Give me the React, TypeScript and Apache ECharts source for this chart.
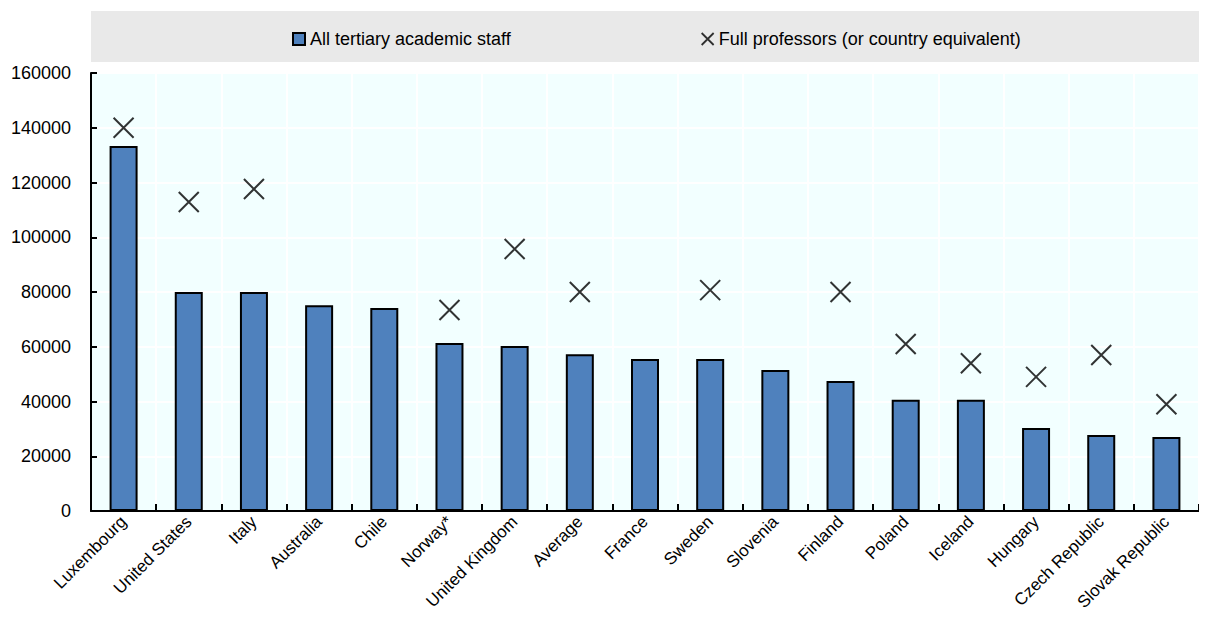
import React, { useEffect, useRef } from "react";
import * as echarts from "echarts";

const categories = ["Luxembourg", "United States", "Italy", "Australia", "Chile", "Norway*", "United Kingdom", "Average", "France", "Sweden", "Slovenia", "Finland", "Poland", "Iceland", "Hungary", "Czech Republic", "Slovak Republic"];
const staffValues = [133300, 80000, 80000, 75200, 74200, 61400, 60300, 57300, 55500, 55500, 51500, 47500, 40600, 40600, 30300, 27800, 27000];
const professorValues = [140000, 112900, 117600, null, null, 73400, 95700, 80000, null, 80700, null, 80000, 61000, 54000, 49000, 57000, 39000];

const FONT = "'Liberation Sans Narrow', 'Arial Narrow', 'Liberation Sans', Arial, sans-serif";
const CROSS = "path://M0,0L10,10M10,0L0,10";

export default function App() {
  const ref = useRef<HTMLDivElement>(null);
  useEffect(() => {
    if (!ref.current) return;
    const chart = echarts.init(ref.current, null, { renderer: "svg" });
    chart.setOption({
      animation: false,
      textStyle: { fontFamily: FONT },
      graphic: [
        {
          type: "rect",
          left: 83,
          top: 3,
          shape: { width: 1116, height: 51 },
          style: { fill: "#E9E9E9" },
          z: -10,
        },
      ],
      legend: {
        top: 17,
        left: 279,
        itemGap: 190,
        itemWidth: 12,
        itemHeight: 12,
        textStyle: { fontFamily: FONT, fontSize: 18, color: "#000" },
        data: [
          { name: "All tertiary academic staff", icon: "rect" },
          { name: "Full professors (or country equivalent)", icon: CROSS, itemStyle: { color: "transparent", borderColor: "#000", borderWidth: 1.8 } },
        ],
      },
      grid: { left: 83, right: 0, top: 65, bottom: 101, containLabel: false, outerBoundsMode: "none", show: true, backgroundColor: "#F2FFFF", borderWidth: 0 },
      xAxis: {
        type: "category",
        data: categories,
        boundaryGap: true,
        axisLine: { show: true, lineStyle: { color: "#000", width: 2 } },
        axisTick: { show: true, inside: true, length: 7, lineStyle: { color: "#000", width: 2 } },
        splitLine: { show: true, lineStyle: { color: "#FFFFFF", width: 2 } },
        axisLabel: { rotate: 45, interval: 0, fontSize: 17, color: "#000", fontFamily: FONT, margin: 8 },
      },
      yAxis: {
        type: "value",
        min: 0,
        max: 160000,
        interval: 20000,
        axisLine: { show: true, lineStyle: { color: "#000", width: 2 } },
        axisTick: { show: true, inside: true, length: 6, lineStyle: { color: "#000", width: 2 } },
        splitLine: { show: true, lineStyle: { color: "#FFFFFF", width: 2 } },
        axisLabel: { fontSize: 18, color: "#000", fontFamily: FONT, margin: 20, formatter: (v: number) => String(v) },
      },
      series: [
        {
          name: "All tertiary academic staff",
          type: "bar",
          data: staffValues,
          barWidth: 28,
          itemStyle: { color: "#4F81BD", borderColor: "#000", borderWidth: 2 },
        },
        {
          name: "Full professors (or country equivalent)",
          type: "scatter",
          data: professorValues,
          symbol: CROSS,
          symbolSize: 20,
          itemStyle: { color: "transparent", borderColor: "#000", borderWidth: 2 },
          z: 5,
        },
      ],
    });
    return () => chart.dispose();
  }, []);
  return <div ref={ref} style={{ width: 1191, height: 604 }} />;
}
